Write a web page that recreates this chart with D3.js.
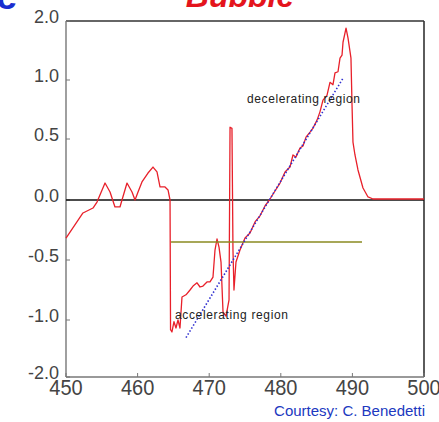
<!DOCTYPE html>
<meta charset="utf-8">
<style>
  body { margin: 0; background: #fff; }
  svg { display: block; }
  text { font-family: "Liberation Sans", Arial, sans-serif; }
</style>
<svg width="439" height="422"></svg>
<script src="https://cdn.jsdelivr.net/npm/d3@7"></script>
<script>

// tick values and their labels (the y axis is evenly spaced, not linear)
var yTicks = [2, 1, 0.5, 0, -0.5, -1, -2];
var yLabels = ["2.0", "1.0", "0.5", "0.0", "-0.5", "-1.0", "-2.0"];
var xTicks = [450, 460, 470, 480, 490, 500];

// red trace: wavelength, signal
var traceX = [450.0, 452.37, 453.77, 454.33, 455.45, 456.15, 456.84, 457.54, 457.82, 458.52,
  459.22, 459.64, 460.06, 460.61, 461.45, 462.15, 462.71, 463.13, 463.83, 464.25,
  464.53, 464.6, 464.8, 465.08, 465.36, 465.64, 465.92, 466.2, 466.76, 467.32,
  467.74, 468.3, 468.72, 469.13, 469.69, 470.11, 470.53, 470.81, 471.09, 471.37,
  471.65, 471.93, 472.35, 472.77, 472.91, 473.18, 473.32, 473.46, 473.74, 474.3,
  475.0, 475.7, 476.4, 477.09, 477.79, 478.49, 479.19, 479.89, 480.59, 481.28,
  481.7, 482.12, 482.68, 483.1, 483.52, 484.08, 484.5, 485.06, 485.47, 485.89,
  486.45, 486.87, 487.29, 487.57, 487.99, 488.27, 488.55, 488.69, 489.11, 489.39,
  489.8, 489.94, 490.08, 490.36, 490.78, 491.48, 492.18, 492.88, 500.0];
var traceY = [-0.317, -0.108, -0.067, -0.017, 0.139, 0.066, -0.058, -0.058, 0.0, 0.139,
  0.066, 0.0, 0.066, 0.148, 0.221, 0.27, 0.23, 0.107, 0.107, 0.082,
  0.0, -1.17, -1.21, -1.03, -1.14, -1.0, -1.14, -0.808, -0.79, -0.75,
  -0.717, -0.69, -0.725, -0.717, -0.683, -0.683, -0.642, -0.417, -0.325, -0.392,
  -0.517, -0.933, -0.967, -0.833, 0.6, 0.59, -0.417, -0.75, -0.517, -0.417,
  -0.317, -0.275, -0.183, -0.133, -0.05, 0.008, 0.074, 0.139, 0.23, 0.27,
  0.369, 0.352, 0.426, 0.443, 0.516, 0.559, 0.593, 0.66, 0.73, 0.83,
  0.87, 0.98, 0.96, 1.12, 1.14, 1.37, 1.42, 1.64, 1.88, 1.71,
  1.37, 0.81, 0.475, 0.369, 0.246, 0.098, 0.025, 0.008, 0.008];

// fitted slope (blue dotted) and threshold level (olive)
var fitX = [466.76, 488.69];
var fitY = [-1.31, 1.03];
var levelX = [464.67, 491.34];
var levelY = [-0.35, -0.35];

var svg = d3.select("svg");

var x = d3.scaleLinear().domain([450, 500]).range([66, 424]);
var y = d3.scaleLinear().domain(yTicks).range([21, 80, 139, 200, 260, 320, 377]);

// frame
svg.append("line").attr("x1", 66).attr("x2", 424).attr("y1", y(2)).attr("y2", y(2))
  .attr("stroke", "#333").attr("stroke-width", 1.6);
svg.append("line").attr("x1", 424).attr("x2", 424).attr("y1", y(2)).attr("y2", y(-2))
  .attr("stroke", "#333").attr("stroke-width", 1.6);
svg.append("line").attr("x1", 66).attr("x2", 66).attr("y1", y(2)).attr("y2", y(-2))
  .attr("stroke", "#777").attr("stroke-width", 1.4);
svg.append("line").attr("x1", 66).attr("x2", 424).attr("y1", y(-2)).attr("y2", y(-2))
  .attr("stroke", "#777").attr("stroke-width", 1.4);

// y ticks + labels
var yt = svg.append("g").selectAll("g").data(yTicks).enter().append("g");
yt.append("line").attr("x1", 66).attr("x2", 70)
  .attr("y1", d => y(d)).attr("y2", d => y(d)).attr("stroke", "#777");
yt.append("text").attr("x", 59).attr("y", d => y(d) + 1.5)
  .attr("text-anchor", "end").attr("font-size", 18).attr("fill", "#444")
  .text((d, i) => yLabels[i]);

// x ticks + labels (a bit stretched vertically like the original)
var xt = svg.append("g").selectAll("g").data(xTicks).enter().append("g");
xt.append("line").attr("x1", d => x(d)).attr("x2", d => x(d))
  .attr("y1", y(-2)).attr("y2", y(-2) - 4).attr("stroke", "#777");
xt.append("text")
  .attr("transform", d => "translate(" + x(d) + ",395) scale(1,1.12)")
  .attr("text-anchor", "middle").attr("font-size", 20).attr("fill", "#444")
  .text(d => d);

// zero line
svg.append("line").attr("x1", 66).attr("x2", 424).attr("y1", y(0)).attr("y2", y(0))
  .attr("stroke", "#111").attr("stroke-width", 1.6);

var line = d3.line().x(d => x(d[0])).y(d => y(d[1]));

svg.append("path")
  .datum(d3.zip(traceX, traceY))
  .attr("d", line)
  .attr("fill", "none").attr("stroke", "#e8202a").attr("stroke-width", 1.3)
  .attr("stroke-linejoin", "round");

svg.append("path")
  .datum(d3.zip(levelX, levelY))
  .attr("d", line)
  .attr("stroke", "#8a8a20").attr("stroke-width", 1.6);

svg.append("path")
  .datum(d3.zip(fitX, fitY))
  .attr("d", line)
  .attr("stroke", "#3030d0").attr("stroke-width", 1.6)
  .attr("stroke-dasharray", "1.5,2");

// annotations
svg.append("text").attr("x", 247).attr("y", 103).attr("font-size", 12)
  .attr("textLength", 113).attr("fill", "#222").text("decelerating region");
svg.append("text").attr("x", 175).attr("y", 319).attr("font-size", 12)
  .attr("textLength", 113).attr("fill", "#222").text("accelerating region");

// clipped title remnants at the top
svg.append("text").attr("x", 240).attr("y", 7).attr("text-anchor", "middle")
  .attr("font-size", 32).attr("font-weight", "bold").attr("font-style", "italic")
  .attr("fill", "#e4141c").text("Bubble");
svg.append("text").attr("x", -4).attr("y", 9)
  .attr("font-size", 38).attr("font-weight", "bold")
  .attr("fill", "#1a2ed0").text("e");

svg.append("text").attr("x", 425).attr("y", 416).attr("text-anchor", "end")
  .attr("font-size", 15).attr("fill", "#2038c0").text("Courtesy: C. Benedetti");

</script>
